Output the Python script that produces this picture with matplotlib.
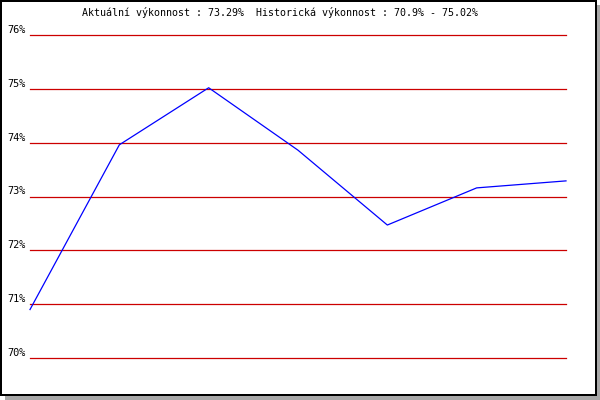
import matplotlib
matplotlib.use("Agg")
import matplotlib.pyplot as plt
from matplotlib.patches import Rectangle

values = [70.9, 73.96, 75.02, 73.86, 72.47, 73.16, 73.29]
yticks = [70, 71, 72, 73, 74, 75, 76]
ytick_labels = ["70%", "71%", "72%", "73%", "74%", "75%", "76%"]
title = "Aktuální výkonnost : 73.29%  Historická výkonnost : 70.9% - 75.02%"

W, H = 600, 400
fig = plt.figure(figsize=(6, 4), dpi=100)
fig.patch.set_facecolor("white")

def rect(x0, y0, x1, y1, color, z):
    fig.patches.append(Rectangle((x0 / W, 1 - y1 / H), (x1 - x0) / W, (y1 - y0) / H,
                                 transform=fig.transFigure, facecolor=color,
                                 edgecolor="none", zorder=z))

rect(5, 5, 600, 400, "#a8a8a8", 0)
rect(0, 0, 597, 396, "black", 1)
rect(2, 2, 595, 393.5, "white", 2)

ax = fig.add_axes([30 / W, 1 - 358 / H, (566 - 30) / W, (358 - 35) / H])
ax.set_facecolor("none")
ax.set_zorder(5)
ax.set_xlim(0, len(values) - 1)
ax.set_ylim(70, 76)
for s in ax.spines.values():
    s.set_visible(False)
ax.set_xticks([])
ax.set_yticks(yticks)
ax.set_yticklabels(ytick_labels, family="DejaVu Sans Mono", fontsize=7.4)
ax.tick_params(axis="y", length=0, pad=3)
for t in ax.get_yticklabels():
    t.set_va("bottom")
for yv in yticks:
    ax.axhline(yv, color="#cc0000", lw=0.9, zorder=1, clip_on=False)
ax.plot(range(len(values)), values, color="#0000ff", lw=0.9, zorder=3, clip_on=False)

fig.text(280.5 / W, 1 - 13 / H, title, family="DejaVu Sans Mono", fontsize=7.2,
         ha="center", va="center", zorder=10)

fig.savefig("out.png", dpi=100)
